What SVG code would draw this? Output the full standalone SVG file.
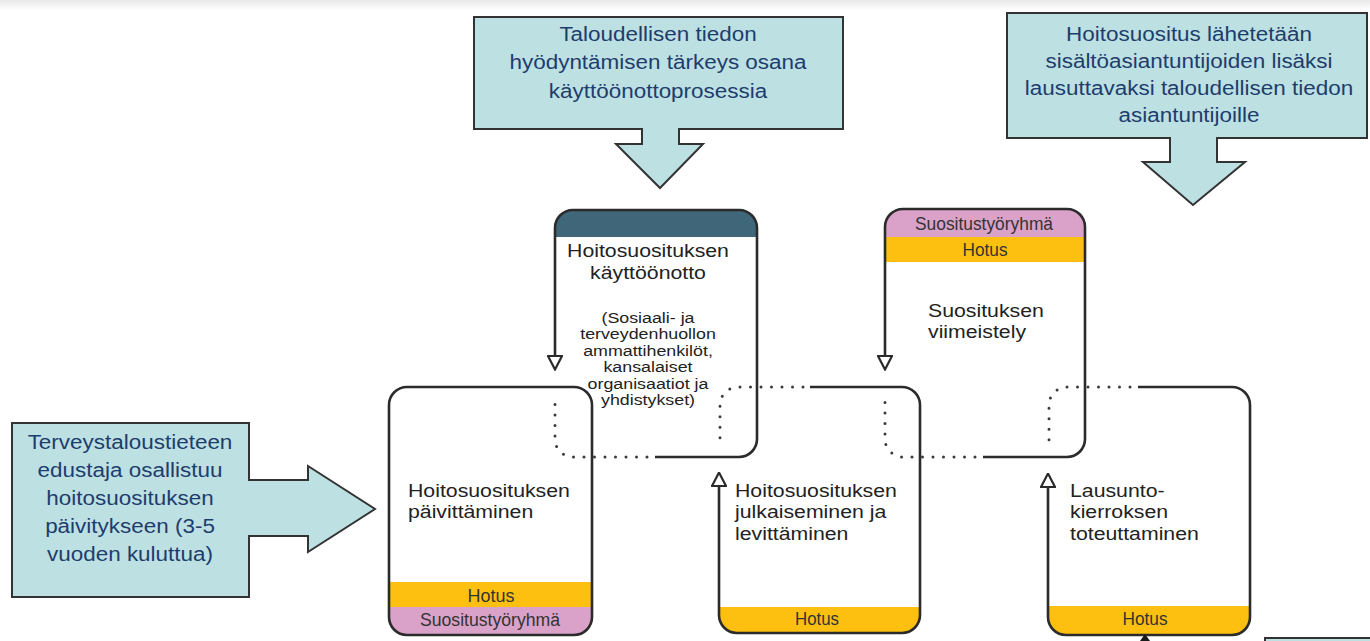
<svg xmlns="http://www.w3.org/2000/svg" width="1370" height="641" viewBox="0 0 1370 641">
<defs>
<linearGradient id="topg" x1="0" y1="0" x2="0" y2="1"><stop offset="0" stop-color="#e8e8e8"/><stop offset="1" stop-color="#ffffff"/></linearGradient>
<marker id="open" viewBox="0 0 16 16" refX="1.5" refY="8" markerWidth="16" markerHeight="16" markerUnits="userSpaceOnUse" orient="auto"><path d="M1.5,1 L15,8 L1.5,15 Z" fill="#fff" stroke="#2b2b2b" stroke-width="2.2" stroke-linejoin="miter"/></marker>
<clipPath id="c1"><rect x="389" y="387" width="203" height="248" rx="18"/></clipPath>
<clipPath id="c2"><rect x="555" y="210" width="202" height="247" rx="18"/></clipPath>
<clipPath id="c3"><rect x="719" y="387" width="201" height="246" rx="18"/></clipPath>
<clipPath id="c4"><rect x="885" y="209" width="200" height="248" rx="18"/></clipPath>
<clipPath id="c5"><rect x="1048" y="387" width="202" height="248" rx="18"/></clipPath>
</defs>
<style>
.callout{fill:#bde0e3;stroke:#333;stroke-width:2}
.ct{font-family:"Liberation Sans",Arial,sans-serif;font-size:21px;fill:#1d3d6c;text-anchor:middle}
.edge{fill:none;stroke:#2b2b2b;stroke-width:2.6}
.dot{fill:none;stroke:#3a3a3a;stroke-width:3;stroke-dasharray:0 10.5;stroke-linecap:round}
.nt{font-family:"Liberation Sans",Arial,sans-serif;font-size:18.5px;fill:#222}
.st{font-size:15.5px;text-anchor:middle}
.bt{font-family:"Liberation Sans",Arial,sans-serif;font-size:18px;fill:#333;text-anchor:middle}
.hotus{fill:#fdc010}
.pink{fill:#daa2c9}
.head{fill:#40667a}
.conn{fill:none;stroke:#2b2b2b;stroke-width:2.6;marker-end:url(#open)}
</style>
<rect x="0" y="0" width="1370" height="641" fill="#fff"/>
<rect x="0" y="0" width="1370" height="10" fill="url(#topg)"/>

<g id="callout-taloudellinen">
<path class="callout" d="M474 17 H843 V129 H679 V144 H703 L660 188 L616 144 H642 V129 H474 Z"/>
<g transform="translate(658 0) scale(1.07 1)">
<text class="ct" x="0" y="41">Taloudellisen tiedon</text>
<text class="ct" x="0" y="69.5">hyödyntämisen tärkeys osana</text>
<text class="ct" x="0" y="98">käyttöönottoprosessia</text>
</g>
</g>

<g id="callout-lausunto">
<path class="callout" d="M1007 13 H1367 V138 H1217 V162 H1245 L1193 205 L1143 162 H1170 V138 H1007 Z"/>
<g transform="translate(1189 0) scale(1.07 1)">
<text class="ct" x="0" y="41">Hoitosuositus lähetetään</text>
<text class="ct" x="0" y="68">sisältöasiantuntijoiden lisäksi</text>
<text class="ct" x="0" y="95">lausuttavaksi taloudellisen tiedon</text>
<text class="ct" x="0" y="122">asiantuntijoille</text>
</g>
</g>

<g id="callout-terveystalous">
<path class="callout" d="M12 423 H249 V480 H308 V466 L375 509 L308 552 V536 H249 V597 H12 Z"/>
<g transform="translate(130 0) scale(1.07 1)">
<text class="ct" x="0" y="449">Terveystaloustieteen</text>
<text class="ct" x="0" y="477">edustaja osallistuu</text>
<text class="ct" x="0" y="505">hoitosuosituksen</text>
<text class="ct" x="0" y="533">päivitykseen (3-5</text>
<text class="ct" x="0" y="561">vuoden kuluttua)</text>
</g>
</g>

<g id="node-paivittaminen">
<g clip-path="url(#c1)">
<rect class="hotus" x="389" y="582" width="203" height="25"/>
<rect class="pink" x="389" y="607" width="203" height="28"/>
</g>
<rect class="edge" x="389" y="387" width="203" height="248" rx="18"/>
<g transform="translate(408 0) scale(1.15 1)">
<text class="nt" x="0" y="497">Hoitosuosituksen</text>
<text class="nt" x="0" y="518.5">päivittäminen</text>
</g>
<text class="bt" x="491" y="601.5" textLength="47" lengthAdjust="spacingAndGlyphs">Hotus</text>
<text class="bt" x="490" y="626" textLength="140" lengthAdjust="spacingAndGlyphs">Suositustyöryhmä</text>
</g>

<g id="node-kayttoonotto">
<g clip-path="url(#c2)">
<rect class="head" x="555" y="210" width="202" height="27"/>
</g>
<path class="edge" d="M555 228 A18 18 0 0 1 573 210 H739 A18 18 0 0 1 757 228 V439 A18 18 0 0 1 739 457 H655"/>
<path class="dot" d="M647 457 H573 A18 18 0 0 1 555 439 V398"/>
<g transform="translate(648 0) scale(1.15 1)">
<text class="nt" x="0" y="257" text-anchor="middle">Hoitosuosituksen</text>
<text class="nt" x="0" y="279" text-anchor="middle">käyttöönotto</text>
<text class="nt st" x="0" y="323">(Sosiaali- ja</text>
<text class="nt st" x="0" y="339.5">terveydenhuollon</text>
<text class="nt st" x="0" y="356">ammattihenkilöt,</text>
<text class="nt st" x="0" y="372.5">kansalaiset</text>
<text class="nt st" x="0" y="389">organisaatiot ja</text>
<text class="nt st" x="0" y="405.5">yhdistykset)</text>
</g>
</g>

<g id="node-julkaiseminen">
<g clip-path="url(#c3)">
<rect class="hotus" x="719" y="607" width="201" height="26"/>
</g>
<path class="edge" d="M810 387 H902 A18 18 0 0 1 920 405 V615 A18 18 0 0 1 902 633 H737 A18 18 0 0 1 719 615"/>
<path class="dot" d="M803 387 H737 A18 18 0 0 0 720 405 V447"/>
<g transform="translate(735 0) scale(1.15 1)">
<text class="nt" x="0" y="497">Hoitosuosituksen</text>
<text class="nt" x="0" y="518.5">julkaiseminen ja</text>
<text class="nt" x="0" y="540">levittäminen</text>
</g>
<text class="bt" x="817" y="625" textLength="44" lengthAdjust="spacingAndGlyphs">Hotus</text>
</g>

<g id="node-viimeistely">
<g clip-path="url(#c4)">
<rect class="pink" x="885" y="209" width="200" height="28"/>
<rect class="hotus" x="885" y="237" width="200" height="25"/>
</g>
<path class="edge" d="M885 227 A18 18 0 0 1 903 209 H1067 A18 18 0 0 1 1085 227 V439 A18 18 0 0 1 1067 457 H983"/>
<path class="dot" d="M975 457 H903 A18 18 0 0 1 885 439 V398"/>
<text class="bt" x="984" y="230" textLength="138" lengthAdjust="spacingAndGlyphs">Suositustyöryhmä</text>
<text class="bt" x="985" y="256" textLength="45" lengthAdjust="spacingAndGlyphs">Hotus</text>
<g transform="translate(928 0) scale(1.15 1)">
<text class="nt" x="0" y="317">Suosituksen</text>
<text class="nt" x="0" y="338">viimeistely</text>
</g>
</g>

<g id="node-lausuntokierros">
<g clip-path="url(#c5)">
<rect class="hotus" x="1048" y="606" width="202" height="29"/>
</g>
<path class="edge" d="M1138 387 H1232 A18 18 0 0 1 1250 405 V617 A18 18 0 0 1 1232 635 H1066 A18 18 0 0 1 1048 617"/>
<path class="dot" d="M1130 387 H1066 A18 18 0 0 0 1049 405 V447"/>
<g transform="translate(1070 0) scale(1.15 1)">
<text class="nt" x="0" y="497">Lausunto-</text>
<text class="nt" x="0" y="518.5">kierroksen</text>
<text class="nt" x="0" y="540">toteuttaminen</text>
</g>
<text class="bt" x="1145" y="625" textLength="45" lengthAdjust="spacingAndGlyphs">Hotus</text>
</g>

<g id="node-partial-bottom-right">
<rect class="callout" x="1265" y="638" width="110" height="20"/>
</g>

<g id="connectors">
<path class="conn" d="M555 228 V356"/>
<path class="conn" d="M885 227 V356"/>
<path class="conn" d="M719 615 V486"/>
<path class="conn" d="M1048 617 V487"/>
<path d="M1145 641 V637" stroke="#2b2b2b" stroke-width="2.6"/>
<path d="M1140 641 L1145 634 L1150 641 Z" fill="#1a1a1a"/>
</g>
</svg>
